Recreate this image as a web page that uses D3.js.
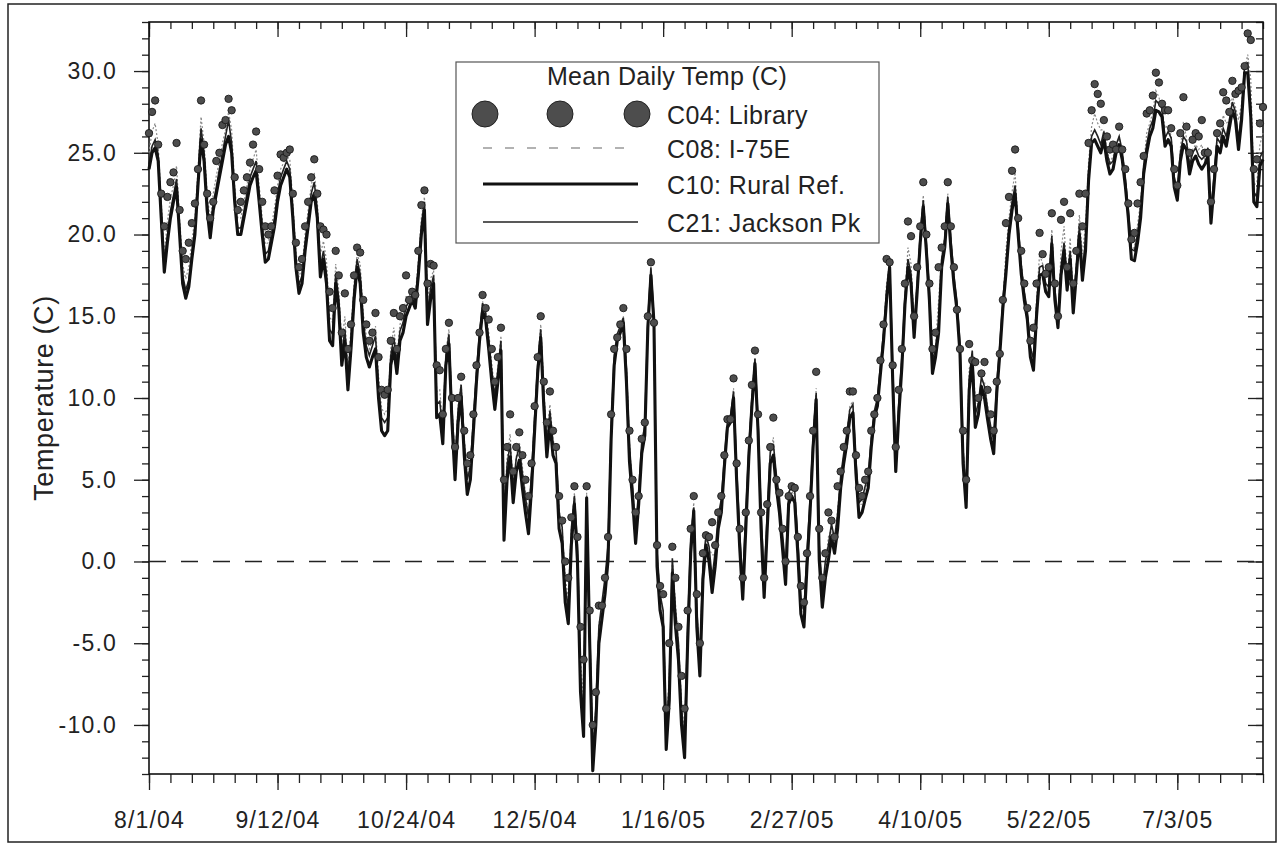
<!DOCTYPE html>
<html>
<head>
<meta charset="utf-8">
<script src="https://cdn.jsdelivr.net/npm/d3@7"></script>
<style>
  html, body { margin: 0; padding: 0; background: #fff; }
  svg { display: block; font-family: "Liberation Sans", Arial, sans-serif; }
</style>
</head>
<body>
<svg id="chart" width="1281" height="846"></svg>
<script>
// first day of the record; one value per day after that
const startDay = new Date(2004, 7, 1);
const endDay = new Date(2005, 6, 31);

// C04: Library (markers)
const c04 = [
  26.2, 27.5, 28.2, 25.5, 22.5, 20.5, 22.3, 23.2, 23.8, 25.6,
  21.5, 19.0, 18.5, 19.5, 20.7, 21.9, 24.0, 28.2, 25.5, 22.5,
  21.0, 22.0, 24.5, 25.0, 26.7, 27.0, 28.3, 27.6, 23.5, 21.5,
  22.0, 22.7, 23.5, 24.4, 25.5, 26.3, 24.0, 22.0, 20.5, 20.0,
  20.5, 22.7, 23.6, 24.9, 24.7, 25.0, 25.2, 22.5, 19.5, 18.0,
  18.5, 20.5, 22.0, 23.5, 24.6, 22.5, 20.5, 20.3, 20.0, 16.5,
  15.5, 19.0, 17.5, 14.0, 16.4, 13.0, 14.5, 17.5, 19.2, 18.9,
  16.0, 14.5, 13.5, 14.0, 15.2, 12.5, 10.5, 10.2, 10.5, 13.5,
  15.2, 13.0, 15.0, 15.5, 17.5, 16.0, 16.5, 16.3, 19.0, 21.8,
  22.7, 17.0, 18.2, 18.1, 12.0, 11.7, 9.0, 13.0, 14.6, 10.0,
  7.0, 10.0, 11.3, 8.0, 6.0, 6.5, 9.0, 12.0, 14.0, 16.3,
  15.5, 14.8, 13.0, 11.0, 12.5, 14.3, 5.0, 7.0, 9.0, 5.5,
  7.0, 7.9, 6.5, 5.0, 4.0, 6.0, 9.5, 12.5, 15.0, 11.0,
  8.5, 10.4, 8.0, 7.0, 4.0, 2.5, 0.0, -1.0, 2.7, 4.6,
  1.5, -4.0, -6.0, 4.6, -3.0, -10.0, -8.0, -2.7, -2.7, -1.0,
  1.5, 9.0, 13.0, 13.7, 14.5, 15.5, 13.0, 8.0, 5.0, 3.0,
  4.0, 7.5, 8.5, 15.0, 18.3, 14.6, 1.0, -1.5, -2.0, -9.0,
  -5.0, 0.9, -1.0, -4.0, -7.0, -9.0, -3.0, 2.0, 4.0, -2.0,
  -5.0, 0.5, 1.6, 1.5, 2.4, 1.0, 3.0, 4.0, 6.5, 8.7,
  8.7, 11.2, 6.0, 2.0, -1.0, 3.0, 7.4, 10.8, 12.9, 9.0,
  3.0, -1.0, 3.5, 7.0, 8.8, 5.0, 4.2, 2.0, 0.0, 4.0,
  4.6, 4.5, 1.5, -1.5, -2.5, 0.5, 4.0, 8.0, 11.6, 2.0,
  -1.0, 0.5, 3.0, 2.5, 1.5, 4.6, 5.5, 7.0, 8.0, 10.4,
  10.4, 6.5, 4.5, 4.0, 5.0, 5.5, 8.0, 9.0, 10.0, 12.3,
  14.5, 18.5, 18.3, 12.0, 7.0, 10.5, 13.0, 17.0, 20.8, 19.9,
  15.0, 18.0, 20.5, 23.2, 20.0, 17.0, 13.0, 14.0, 18.0, 19.2,
  20.5, 23.2, 20.5, 18.0, 15.4, 13.0, 8.0, 5.0, 13.3, 12.3,
  12.2, 10.0, 11.5, 12.2, 10.5, 9.0, 8.0, 11.0, 12.7, 16.0,
  20.7, 22.3, 23.9, 25.2, 21.0, 19.0, 17.0, 15.5, 13.5, 14.3,
  17.0, 20.1, 18.8, 17.6, 18.0, 21.3, 17.0, 15.0, 20.9, 22.0,
  18.0, 21.3, 17.0, 19.0, 22.5, 20.5, 22.5, 25.6, 27.6, 29.2,
  28.6, 28.0, 27.0, 26.0, 25.2, 25.5, 25.2, 26.6, 25.2, 24.0,
  21.9, 19.7, 20.1, 21.9, 23.2, 24.8, 27.4, 27.6, 28.5, 29.9,
  29.3, 28.0, 27.6, 27.6, 26.5, 24.0, 23.0, 26.2, 28.4, 26.6,
  25.0, 25.8, 26.2, 26.0, 27.0, 25.0, 25.0, 22.0, 24.0, 26.2,
  26.8, 28.7, 28.2, 27.5, 29.4, 28.6, 28.8, 29.0, 30.3, 32.3,
  31.9, 24.0, 24.6, 26.8, 27.8
];

// C08: I-75E (dotted)
const c08 = [
  25.0, 26.3, 26.8, 25.5, 22.0, 18.8, 20.8, 22.2, 23.0, 24.2,
  21.0, 18.2, 17.3, 18.0, 19.6, 21.0, 24.0, 27.2, 25.6, 22.6,
  20.8, 22.5, 23.6, 24.5, 25.6, 26.4, 27.5, 26.4, 23.0, 21.0,
  21.0, 22.0, 23.0, 24.0, 24.6, 25.2, 23.0, 21.0, 19.4, 19.5,
  20.5, 21.6, 23.0, 24.0, 24.4, 24.8, 24.6, 22.0, 19.0, 17.4,
  18.0, 20.0, 21.5, 23.0, 23.8, 22.0, 18.8, 19.6, 18.4, 15.0,
  14.6, 18.2, 16.6, 13.4, 15.0, 11.8, 14.2, 17.0, 18.8, 18.2,
  15.2, 13.8, 13.0, 13.6, 14.4, 11.4, 9.4, 9.0, 9.4, 13.0,
  14.3, 12.6, 14.5, 15.0, 16.2, 16.2, 16.6, 16.2, 18.4, 21.0,
  22.3, 16.0, 17.3, 17.8, 10.4, 10.5, 8.4, 12.8, 14.2, 9.4,
  6.3, 9.5, 10.9, 7.6, 5.3, 6.0, 8.7, 11.6, 13.9, 15.9,
  15.3, 14.0, 12.1, 10.3, 12.0, 13.8, 3.0, 6.3, 7.8, 4.6,
  6.4, 7.3, 5.8, 4.2, 3.0, 5.4, 8.9, 12.1, 14.5, 10.6,
  7.5, 9.6, 7.5, 6.7, 3.2, 2.0, -1.0, -2.2, 2.0, 4.2,
  0.8, -6.0, -8.5, 4.2, -4.0, -11.2, -9.0, -3.8, -3.0, -1.5,
  0.8, 8.3, 12.6, 13.6, 14.4, 15.0, 12.0, 7.2, 4.5, 2.1,
  3.8, 7.0, 8.0, 14.6, 17.9, 14.6, 0.4, -2.2, -3.0, -10.2,
  -7.0, 0.1, -2.5, -5.0, -8.5, -10.5, -4.0, 1.2, 3.6, -3.0,
  -6.0, -0.2, 1.3, 0.8, 0.4, 0.4, 2.5, 3.5, 6.2, 8.5,
  8.6, 10.6, 5.6, 1.5, -1.6, 2.5, 6.9, 10.2, 12.5, 8.6,
  2.5, -1.6, 2.8, 6.5, 7.6, 4.8, 3.6, 1.4, -0.7, 3.8,
  4.3, 4.0, 1.0, -2.4, -3.2, 0.1, 3.5, 7.5, 10.6, 1.0,
  -2.0, -0.3, 1.5, 2.0, 1.0, 3.2, 5.0, 6.5, 7.6, 9.5,
  9.8, 6.0, 3.5, 3.5, 4.4, 5.0, 7.5, 8.9, 9.8, 11.9,
  14.0, 17.0, 18.2, 11.6, 6.2, 9.8, 12.4, 16.3, 19.2, 18.2,
  14.4, 17.2, 20.0, 22.4, 19.5, 16.6, 12.3, 13.2, 16.0, 18.6,
  19.8, 22.5, 19.8, 17.5, 15.4, 13.0, 7.0, 4.2, 11.8, 12.3,
  10.0, 9.5, 11.0, 11.0, 9.5, 8.2, 7.3, 10.6, 12.7, 15.8,
  19.0, 21.0, 22.6, 23.8, 20.5, 18.3, 16.5, 15.2, 13.0, 12.8,
  16.0, 18.8, 18.2, 17.0, 17.0, 20.3, 16.5, 14.7, 19.0, 20.5,
  17.3, 19.8, 16.0, 18.2, 21.2, 18.8, 20.6, 24.4, 26.6, 27.4,
  26.8, 26.4, 26.4, 25.2, 24.4, 24.8, 25.1, 26.0, 24.9, 23.5,
  21.4, 19.1, 19.2, 20.6, 22.0, 24.2, 26.2, 26.8, 27.5, 28.8,
  28.4, 27.6, 26.5, 26.7, 26.0, 23.5, 22.6, 25.3, 26.9, 25.9,
  24.4, 25.2, 25.5, 25.2, 25.5, 24.6, 24.9, 21.4, 23.5, 25.8,
  25.9, 27.3, 26.8, 27.0, 28.5, 27.8, 27.0, 28.0, 30.1, 31.0,
  29.5, 23.0, 23.2, 25.5, 26.2
];

// C10: Rural Ref. (thick)
const c10 = [
  24.0, 25.0, 25.3, 24.5, 21.0, 17.7, 19.5, 21.0, 22.0, 22.9,
  20.0, 17.0, 16.1, 16.8, 18.5, 20.0, 23.0, 25.8, 24.5, 21.5,
  19.8, 21.5, 22.5, 23.5, 24.5, 25.5, 26.0, 25.0, 22.0, 20.0,
  20.0, 21.0, 22.0, 23.0, 23.5, 23.9, 22.0, 20.0, 18.3, 18.5,
  19.5, 20.5, 22.0, 23.0, 23.5, 24.0, 23.5, 21.0, 18.0, 16.4,
  17.0, 19.0, 20.5, 22.0, 22.5, 21.0, 17.4, 18.5, 17.0, 13.5,
  13.2, 17.0, 15.5, 12.0, 13.5, 10.5, 13.0, 16.0, 18.0, 17.0,
  14.0, 12.5, 11.9, 12.5, 13.0, 10.0, 8.0, 7.7, 8.0, 12.0,
  13.0, 11.5, 13.5, 14.0, 15.0, 15.5, 16.0, 15.5, 17.5, 20.0,
  21.5, 14.5, 16.0, 17.0, 8.8, 9.0, 7.2, 12.0, 13.3, 8.5,
  5.0, 8.5, 10.1, 6.5, 4.1, 5.0, 8.0, 11.0, 13.5, 15.3,
  14.8, 13.0, 11.0, 9.3, 11.0, 12.9, 1.3, 5.0, 6.4, 3.6,
  5.5, 6.2, 4.5, 3.0, 1.7, 4.5, 8.0, 11.5, 13.7, 9.5,
  6.4, 8.5, 6.5, 6.0, 2.0, 1.1, -2.5, -3.8, 1.0, 3.5,
  0.0, -8.0, -10.7, 3.9, -5.0, -12.8, -10.0, -5.0, -3.5, -2.0,
  0.1, 7.5, 12.0, 13.5, 14.0, 14.6, 11.0, 6.1, 3.8, 1.1,
  3.5, 6.6, 7.7, 14.3, 17.5, 14.6, -0.3, -3.0, -4.0, -11.5,
  -8.5, -0.7, -3.9, -6.0, -10.0, -12.0, -5.0, 0.5, 3.1, -4.0,
  -7.0, -1.1, 1.0, 0.0, -1.9, -0.3, 2.0, 3.0, 5.8, 8.2,
  8.5, 10.0, 5.0, 0.9, -2.3, 2.0, 6.4, 9.5, 12.1, 8.0,
  2.0, -2.2, 2.0, 6.0, 6.5, 4.5, 3.0, 0.8, -1.4, 3.5,
  4.0, 3.6, 0.5, -3.2, -4.0, -0.3, 3.0, 7.0, 9.9, 0.1,
  -2.8, -1.0, 0.1, 1.5, 0.5, 2.0, 4.5, 6.0, 7.2, 8.8,
  9.1, 5.4, 2.7, 3.0, 3.8, 4.5, 7.0, 8.8, 9.5, 11.5,
  13.5, 16.0, 18.0, 11.1, 5.5, 9.0, 11.9, 15.7, 18.0, 17.0,
  13.7, 16.5, 19.5, 21.7, 19.0, 16.0, 11.5, 12.5, 14.0, 18.0,
  19.2, 21.9, 19.2, 17.0, 15.4, 12.7, 6.0, 3.3, 10.5, 12.3,
  8.2, 9.0, 10.7, 10.0, 8.7, 7.5, 6.6, 10.3, 12.7, 15.5,
  17.6, 20.0, 21.5, 22.5, 20.0, 17.6, 16.0, 14.8, 12.5, 11.7,
  15.0, 17.5, 17.6, 16.5, 16.2, 19.4, 16.0, 14.3, 17.5, 19.0,
  16.6, 18.5, 15.2, 17.5, 20.0, 17.2, 19.0, 23.3, 25.6, 25.8,
  25.4, 25.0, 25.8, 24.5, 23.7, 24.0, 25.0, 25.5, 24.6, 23.0,
  21.0, 18.5, 18.4, 19.5, 21.0, 23.7, 25.0, 26.0, 26.5, 27.6,
  27.5, 27.2, 25.4, 25.8, 25.4, 22.9, 22.1, 24.5, 25.5, 25.2,
  23.7, 24.5, 24.8, 24.3, 24.0, 24.3, 24.8, 20.7, 23.0, 25.4,
  25.0, 26.0, 25.4, 26.5, 27.6, 27.0, 25.2, 27.0, 29.9, 29.9,
  27.2, 22.0, 21.7, 24.2, 24.6
];

// C21: Jackson Pk (thin)
const c21 = [
  24.3, 25.4, 25.8, 24.9, 21.4, 18.2, 19.9, 21.4, 22.4, 23.4,
  20.5, 17.5, 16.6, 17.2, 18.9, 20.4, 23.5, 26.5, 25.0, 22.0,
  20.2, 21.9, 22.9, 24.0, 25.0, 26.0, 27.0, 25.6, 22.5, 20.4,
  20.4, 21.4, 22.5, 23.5, 24.0, 24.5, 22.5, 20.5, 18.8, 19.0,
  20.0, 21.0, 22.5, 23.5, 24.0, 24.5, 24.0, 21.5, 18.5, 16.9,
  17.5, 19.5, 21.0, 22.5, 23.2, 21.5, 18.0, 19.0, 17.6, 14.2,
  13.9, 17.6, 16.1, 12.7, 14.2, 11.2, 13.7, 16.6, 18.5, 17.6,
  14.7, 13.2, 12.6, 13.2, 13.8, 10.8, 8.8, 8.5, 8.8, 12.6,
  13.7, 12.2, 14.1, 14.6, 15.6, 15.9, 16.3, 15.9, 18.0, 20.6,
  22.0, 15.2, 16.7, 17.5, 9.6, 9.8, 8.0, 12.6, 13.9, 9.3,
  5.9, 9.3, 10.8, 7.3, 5.0, 5.8, 8.7, 11.6, 14.0, 15.8,
  15.2, 13.6, 11.7, 10.1, 11.7, 13.5, 2.3, 5.9, 7.2, 4.5,
  6.3, 7.0, 5.4, 3.9, 2.7, 5.4, 8.8, 12.1, 14.2, 10.2,
  7.2, 9.2, 7.3, 6.8, 3.0, 2.1, -1.5, -2.9, 2.0, 4.0,
  1.0, -7.0, -10.0, 3.7, -4.0, -12.0, -9.0, -4.0, -2.5, -1.0,
  1.0, 8.2, 12.6, 13.9, 14.4, 14.9, 11.8, 7.0, 4.7, 2.0,
  4.3, 7.3, 8.3, 14.8, 18.0, 14.8, 0.6, -2.0, -3.0, -10.5,
  -7.5, 0.2, -2.9, -5.0, -9.0, -11.0, -4.0, 1.4, 3.3, -3.0,
  -6.0, -0.2, 1.6, 0.9, -1.0, 0.6, 2.8, 3.8, 6.3, 8.6,
  8.9, 10.4, 5.8, 1.8, -1.3, 2.9, 7.0, 10.0, 12.4, 8.7,
  2.9, -1.2, 2.9, 6.7, 7.2, 5.3, 3.9, 1.7, -0.4, 4.2,
  4.6, 4.3, 1.4, -2.2, -3.0, 0.6, 3.8, 7.6, 10.3, 1.0,
  -1.8, 0.0, 1.0, 2.3, 1.4, 2.9, 5.2, 6.6, 7.8, 9.3,
  9.6, 6.1, 3.6, 3.8, 4.6, 5.2, 7.6, 9.2, 10.0, 12.0,
  14.0, 16.5, 18.3, 11.8, 6.4, 9.7, 12.5, 16.2, 18.5, 17.6,
  14.3, 17.0, 20.0, 22.1, 19.5, 16.5, 12.2, 13.1, 14.6, 18.5,
  19.7, 22.3, 19.7, 17.5, 15.9, 13.3, 6.8, 4.2, 11.2, 12.9,
  9.0, 9.7, 11.3, 10.7, 9.4, 8.3, 7.4, 10.9, 13.2, 16.0,
  18.1, 20.5, 22.0, 23.0, 20.5, 18.1, 16.5, 15.3, 13.1, 12.4,
  15.6, 18.0, 18.1, 17.0, 16.8, 19.9, 16.6, 14.9, 18.0, 19.5,
  17.2, 19.0, 15.9, 18.0, 20.5, 17.8, 19.6, 23.8, 26.0, 26.4,
  26.0, 25.5, 26.3, 25.0, 24.3, 24.5, 25.5, 26.0, 25.1, 23.5,
  21.5, 19.1, 19.0, 20.0, 21.6, 24.2, 25.5, 26.5, 27.0, 28.2,
  28.0, 27.7, 25.9, 26.3, 25.9, 23.5, 22.7, 25.0, 26.0, 25.7,
  24.2, 25.0, 25.3, 24.8, 24.6, 24.8, 25.3, 21.4, 23.6, 25.9,
  25.6, 26.5, 26.0, 27.0, 28.1, 27.5, 25.8, 27.5, 30.4, 30.5,
  27.8, 22.6, 22.3, 24.7, 25.1
];

const legendTitle = 'Mean Daily Temp (C)';
const seriesNames = ['C04: Library', 'C08: I-75E', 'C10: Rural Ref.', 'C21: Jackson Pk'];
const majorDayStep = 42;   // labelled x ticks
const minorDayStep = 7;    // small x ticks
const yMajorTicks = [-10, -5, 0, 5, 10, 15, 20, 25, 30];

const svg = d3.select('#chart');
const plot = { left: 149, right: 1263, top: 22, bottom: 774 };

// outer frame around the whole figure
svg.append('rect')
  .attr('x', 8).attr('y', 4).attr('width', 1268).attr('height', 838)
  .attr('fill', 'none').attr('stroke', '#222').attr('stroke-width', 1.5);

const x = d3.scaleTime().domain([startDay, endDay]).range([plot.left, plot.right]);
const y = d3.scaleLinear().domain([-13, 33]).range([plot.bottom, plot.top]);

const dayOf = i => d3.timeDay.offset(startDay, i);
const nDays = d3.timeDay.count(startDay, endDay);
const majorDates = d3.range(0, nDays + 1, majorDayStep).map(dayOf);
const minorDates = d3.range(0, nDays + 1, minorDayStep).map(dayOf);
const minorY = d3.range(-13, 34, 1);
const fmt = d3.timeFormat('%-m/%-d/%y');

// bottom axis: ticks point out
const axBottom = svg.append('g').attr('transform', `translate(0,${plot.bottom})`);
axBottom.call(d3.axisBottom(x).tickValues(minorDates).tickSize(9).tickFormat(''));
axBottom.append('g')
  .call(d3.axisBottom(x).tickValues(majorDates).tickSize(16).tickPadding(22).tickFormat(fmt));
axBottom.selectAll('.domain').remove();

// top axis: ticks point in
const axTop = svg.append('g').attr('transform', `translate(0,${plot.top})`);
axTop.call(d3.axisBottom(x).tickValues(minorDates).tickSize(7).tickFormat(''));
axTop.append('g').call(d3.axisBottom(x).tickValues(majorDates).tickSize(15).tickFormat(''));
axTop.selectAll('.domain').remove();

// left axis: ticks point out
const axLeft = svg.append('g').attr('transform', `translate(${plot.left},0)`);
axLeft.call(d3.axisLeft(y).tickValues(minorY).tickSize(7).tickFormat(''));
axLeft.append('g').call(d3.axisLeft(y).tickValues(yMajorTicks).tickSize(15).tickPadding(17)
  .tickFormat(d => d3.format('.1f')(d).replace('−', '-')));
axLeft.selectAll('.domain').remove();

// right axis: ticks point in
const axRight = svg.append('g').attr('transform', `translate(${plot.right},0)`);
axRight.call(d3.axisLeft(y).tickValues(minorY).tickSize(7).tickFormat(''));
axRight.append('g').call(d3.axisLeft(y).tickValues(yMajorTicks).tickSize(15).tickFormat(''));
axRight.selectAll('.domain').remove();

svg.selectAll('.tick line').attr('stroke', '#222').attr('stroke-width', 1.3);
svg.selectAll('.tick text').attr('fill', '#222').style('font-size', '23px')
  .style('font-family', '"Liberation Sans", Arial, sans-serif').attr('letter-spacing', '1.2px');

// plot frame
svg.append('rect')
  .attr('x', plot.left).attr('y', plot.top)
  .attr('width', plot.right - plot.left).attr('height', plot.bottom - plot.top)
  .attr('fill', 'none').attr('stroke', '#111').attr('stroke-width', 1.6);

// y axis title
svg.append('text')
  .attr('transform', `translate(53,${(plot.top + plot.bottom) / 2}) rotate(-90)`)
  .attr('text-anchor', 'middle')
  .style('font-size', '27px').attr('fill', '#222').attr('letter-spacing', '0.6px')
  .text('Temperature (C)');

// zero reference line
svg.append('line')
  .attr('x1', plot.left).attr('x2', plot.right)
  .attr('y1', y(0)).attr('y2', y(0))
  .attr('stroke', '#222').attr('stroke-width', 1.4).attr('stroke-dasharray', '17,15');

const line = d3.line().x((d, i) => x(dayOf(i))).y(d => y(d));

svg.append('path').datum(c08).attr('d', line)
  .attr('fill', 'none').attr('stroke', '#8a8a8a').attr('stroke-width', 1.2).attr('stroke-dasharray', '2,2');
svg.append('path').datum(c21).attr('d', line)
  .attr('fill', 'none').attr('stroke', '#222').attr('stroke-width', 1.6);
svg.append('path').datum(c10).attr('d', line)
  .attr('fill', 'none').attr('stroke', '#111').attr('stroke-width', 3.1).attr('stroke-linejoin', 'round');

svg.append('g').selectAll('circle').data(c04).join('circle')
  .attr('cx', (d, i) => x(dayOf(i))).attr('cy', d => y(d)).attr('r', 3.7)
  .attr('fill', '#4d4d4d').attr('stroke', '#1a1a1a').attr('stroke-width', 0.9);

// legend
const lg = svg.append('g');
lg.append('rect')
  .attr('x', 456).attr('y', 62).attr('width', 423).attr('height', 181)
  .attr('fill', '#fff').attr('stroke', '#555').attr('stroke-width', 1.2);
lg.append('text').attr('x', 667).attr('y', 85).attr('text-anchor', 'middle')
  .style('font-size', '25px').attr('fill', '#222').attr('letter-spacing', '0.3px').text(legendTitle);
const rowY = [114, 148, 184, 222];
lg.selectAll('circle.lg').data([485, 560, 637]).join('circle')
  .attr('cx', d => d).attr('cy', rowY[0]).attr('r', 13)
  .attr('fill', '#4d4d4d').attr('stroke', '#222').attr('stroke-width', 1);
lg.append('line').attr('x1', 483).attr('x2', 630).attr('y1', rowY[1]).attr('y2', rowY[1])
  .attr('stroke', '#999').attr('stroke-width', 1.3).attr('stroke-dasharray', '9,13');
lg.append('line').attr('x1', 483).attr('x2', 638).attr('y1', rowY[2]).attr('y2', rowY[2])
  .attr('stroke', '#111').attr('stroke-width', 3.2);
lg.append('line').attr('x1', 483).attr('x2', 638).attr('y1', rowY[3]).attr('y2', rowY[3])
  .attr('stroke', '#222').attr('stroke-width', 1.3);
lg.selectAll('text.name').data(seriesNames).join('text')
  .attr('class', 'name')
  .attr('x', 667).attr('y', (d, i) => rowY[i] + 10)
  .style('font-size', '25px').attr('fill', '#222').attr('letter-spacing', '0.4px')
  .text(d => d);
</script>
</body>
</html>
